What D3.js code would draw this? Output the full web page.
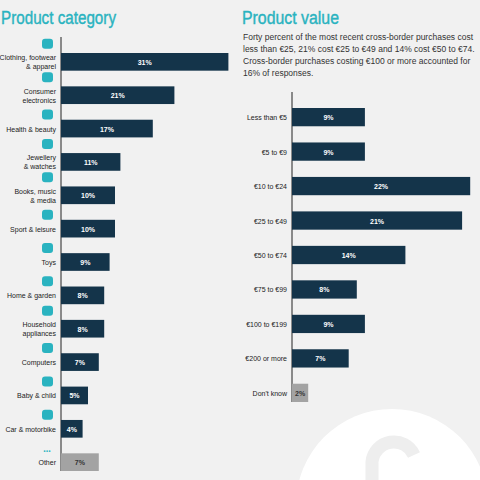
<!DOCTYPE html><html><head><meta charset="utf-8"><script src="https://cdn.jsdelivr.net/npm/d3@7"></script>
<style>body{margin:0;background:#f1f1f1}svg{display:block}</style></head><body><svg id="c" width="480" height="480"></svg>
<script>
const catLabels=[["Clothing, footwear","& apparel"],["Consumer","electronics"],["Health & beauty"],["Jewellery","& watches"],["Books, music","& media"],["Sport & leisure"],["Toys"],["Home & garden"],["Household","appliances"],["Computers"],["Baby & child"],["Car & motorbike"],["Other"]];
const catValues=[31,21,17,11,10,10,9,8,8,7,5,4,7];
const valLabels=["Less than €5","€5 to €9","€10 to €24","€25 to €49","€50 to €74","€75 to €99","€100 to €199","€200 or more","Don't know"];
const valValues=[9,9,22,21,14,8,9,7,2];
const svg=d3.select("#c");
const teal="#2ab3c0",navy="#14344a",grey="#a3a3a3";
svg.append("circle").attr("cx",392).attr("cy",505).attr("r",96).attr("fill","#fff");
svg.append("path").attr("d","M372,480 L372,462 A22,22 0 0 1 414,455").attr("fill","none").attr("stroke","#eeeeee").attr("stroke-width",13);
const title=(x,t,w)=>svg.append("text").attr("x",x).attr("y",24).attr("font-family","Liberation Sans").attr("font-size",18).attr("stroke",teal).attr("stroke-width",0.4).attr("fill",teal).attr("textLength",w).attr("lengthAdjust","spacingAndGlyphs").text(t);
title(1,"Product category",115);title(242,"Product value",97);
const desc=["Forty percent of the most recent cross-border purchases cost","less than €25, 21% cost €25 to €49 and 14% cost €50 to €74.","Cross-border purchases costing €100 or more accounted for","16% of responses."];
svg.append("text").attr("font-family","Liberation Sans").attr("font-size",8.5).attr("fill","#333").selectAll("tspan").data(desc).join("tspan").attr("x",243).attr("y",(d,i)=>40+i*12).text(d=>d);
function panel(labels,values,x0,k,y0,y1,multi){
  const x=d3.scaleLinear().domain([0,1]).range([x0,x0+k]);
  const y=d3.scaleBand().domain(d3.range(values.length)).range([y0,y1]).paddingInner(0.47);
  const last=values.length-1;
  svg.append("line").attr("x1",x0).attr("x2",x0).attr("y1",y0-16).attr("y2",y1).attr("stroke","#222").attr("stroke-width",1);
  values.forEach((v,i)=>{
    svg.append("rect").attr("x",x0).attr("y",y(i)).attr("width",x(v)-x0).attr("height",y.bandwidth()).attr("fill",i===last?grey:navy);
    svg.append("text").attr("x",(x0+x(v))/2).attr("y",y(i)+y.bandwidth()/2+3).attr("text-anchor","middle").attr("font-family","Liberation Sans").attr("font-weight","bold").attr("font-size",7).attr("fill",i===last?"#333":"#fff").text(v+"%");
    const L=Array.isArray(labels[i])?labels[i]:[labels[i]];
    const cy=y(i)+y.bandwidth()/2;
    const t=svg.append("text").attr("text-anchor","end").attr("font-family","Liberation Sans").attr("font-size",7).attr("fill","#222");
    L.forEach((s,j)=>t.append("tspan").attr("x",x0-5).attr("y",cy+3+(j-(L.length-1)/2)*9).text(s));
    if(multi){
      const iy=cy-(L.length>1?18:14);
      if(i===last) svg.append("text").attr("x",47).attr("y",iy+4).attr("text-anchor","middle").attr("fill",teal).attr("font-size",10).attr("font-weight","bold").text("...");
      else svg.append("rect").attr("x",42).attr("y",iy-5).attr("width",11).attr("height",10).attr("rx",3).attr("fill",teal);
    }
  });
}
panel(catLabels,catValues,61,5.4,53,471,true);
panel(valLabels,valValues,292,8.1,108,402,false);
</script></body></html>
